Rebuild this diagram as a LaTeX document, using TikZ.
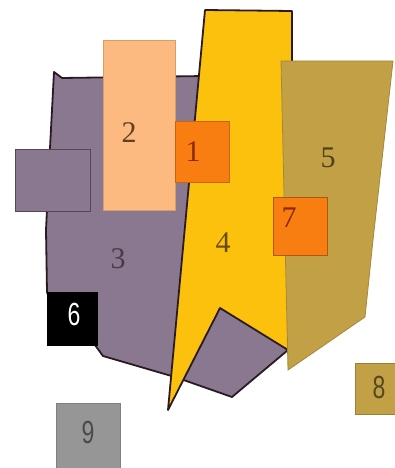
\documentclass[tikz,border=0pt]{standalone}
\usepackage{fontspec}
\setmainfont{Liberation Serif}
\newfontfamily\lblsans{Liberation Sans}
\definecolor{purp}{HTML}{8A7890}
\definecolor{yel}{HTML}{FCC10C}
\definecolor{peach}{HTML}{FCBA80}
\definecolor{orng}{HTML}{F97E12}
\definecolor{olive}{HTML}{C2A046}
\definecolor{gry}{HTML}{969696}
\definecolor{edge}{HTML}{2A1A22}
\definecolor{redbrown}{HTML}{8A2A08}
\tikzset{
  outl/.style={draw=edge, line width=1.8pt, line join=round},
  thin/.style={line width=0.8pt},
  serifnum/.style={font=\fontsize{30}{30}\selectfont, inner sep=0pt},
  sansnum/.style={font=\lblsans\fontsize{32}{32}\selectfont, inner sep=0pt}
}
\begin{document}
\begin{tikzpicture}[x=1pt,y=-1pt]
\useasboundingbox (0,0) rectangle (395,468);
\fill[white] (0,0) rectangle (395,468);
% shape 3 (purple)
\path[fill=purp, outl] (54,72) -- (62,78) -- (205,76) -- (288,150) -- (288,350)
  -- (232,397) -- (175,377) -- (103,356) -- (95,345) -- (60,330) -- (47,292)
  -- (46,230) -- (50,148) -- cycle;
% small purple box
\path[fill=purp, draw=purp!60!black, thin] (15,149) rectangle (90,211);
% shape 2
\path[fill=peach, draw=peach!85!black, thin] (103,40) rectangle (175,210);
\node[serifnum, text=brown!50!black] (n2) at (129,133) {2};
% shape 4 (yellow)
\path[fill=yel, outl] (205,10) -- (292,11) -- (292,80) -- (288,350) -- (220,308) -- (168,410) -- cycle;
\node[serifnum, text=yel!40!black] (n4) at (223,243) {4};
% shape 1
\path[fill=orng, draw=orng!80!black, thin] (175,121) rectangle (229,182);
\node[serifnum, text=redbrown] (n1) at (193,152) {1};
% shape 5 (olive)
\path[fill=olive, draw=olive!85!black, thin] (281,61) -- (393,61) -- (373,240) -- (365,317) -- (288,370) -- cycle;
\node[serifnum, text=olive!40!black] (n5) at (328,158) {5};
% shape 7
\path[fill=orng, draw=orng!70!black, thin] (273,197) rectangle (327,255);
\node[serifnum, text=redbrown] (n7) at (289,218) {7};
% label 3
\node[serifnum, text=purp!50!black] (n3) at (118,259) {3};
% shape 6
\path[fill=black] (47,292) rectangle (98,346);
\node[sansnum, text=white] (n6) at (74,314) {\scalebox{0.72}[1]{6}};
% shape 8
\path[fill=olive, draw=olive!80!black, thin] (355,363) rectangle (396,414);
\node[sansnum, text=olive!45!black] (n8) at (379,387) {\scalebox{0.72}[1]{8}};
% shape 9
\path[fill=gry, draw=gry!85!black, thin] (56,403) rectangle (120,469);
\node[sansnum, text=gry!50!black] (n9) at (88,432) {\scalebox{0.72}[1]{9}};
\end{tikzpicture}
\end{document}
